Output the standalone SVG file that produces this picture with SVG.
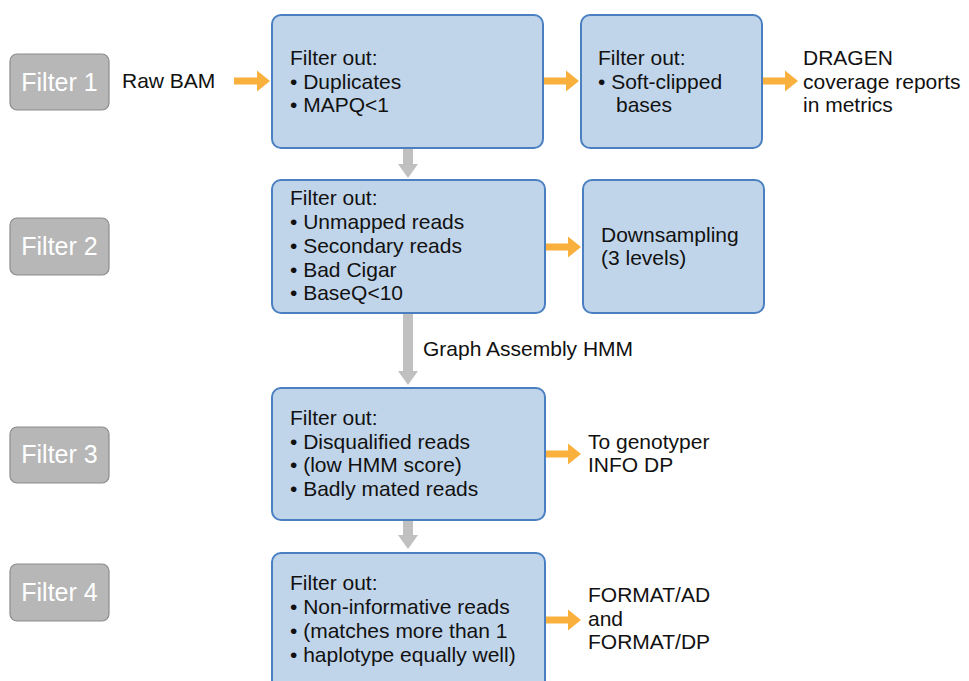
<svg xmlns="http://www.w3.org/2000/svg" width="969" height="681" viewBox="0 0 969 681">
<defs>
<style>
.lbl rect{fill:#b7b7b7;stroke:#8c8c8c;stroke-width:1.2}
.lbl text{fill:#fff;font-family:"Liberation Sans",Arial,sans-serif;font-size:25px;text-anchor:middle}
.box rect{fill:#c1d5ea;stroke:#4a80c2;stroke-width:2}
text{font-family:"Liberation Sans",Arial,sans-serif;font-size:21px;fill:#111}
.or{fill:#f9b03d}
.gr{fill:#c0c0c0}
</style>
<path id="oa" d="M0,-3.5 L23,-3.5 L23,-10.5 L36,0 L23,10.5 L23,3.5 L0,3.5 Z"/>
</defs>
<rect width="969" height="681" fill="#fff"/>

<g id="label1" class="lbl"><rect x="10" y="54" width="99" height="56" rx="7"/><text x="59.5" y="90.5">Filter 1</text></g>
<g id="label2" class="lbl"><rect x="10" y="218" width="99" height="57" rx="7"/><text x="59.5" y="255">Filter 2</text></g>
<g id="label3" class="lbl"><rect x="10" y="427" width="99" height="56" rx="7"/><text x="59.5" y="463">Filter 3</text></g>
<g id="label4" class="lbl"><rect x="10" y="564" width="99" height="57" rx="7"/><text x="59.5" y="601">Filter 4</text></g>

<g id="connectors">
<use href="#oa" class="or" x="234" y="81"/>
<use href="#oa" class="or" x="543" y="81"/>
<use href="#oa" class="or" x="762" y="81"/>
<use href="#oa" class="or" x="545" y="247"/>
<use href="#oa" class="or" x="545" y="454"/>
<use href="#oa" class="or" x="545" y="620"/>
<path class="gr" d="M403,149 L413,149 L413,164 L418,164 L408,178 L398,164 L403,164 Z"/>
<path class="gr" d="M403,314 L413,314 L413,371 L418,371 L408,385 L398,371 L403,371 Z"/>
<path class="gr" d="M403,521 L413,521 L413,535 L418,535 L408,549 L398,535 L403,535 Z"/>
</g>

<g id="rawbam"><text x="122" y="88">Raw BAM</text></g>

<g id="box1" class="box"><rect x="272" y="15" width="271" height="133" rx="9"/>
<text x="290" y="65">Filter out:</text><text x="290" y="89">• Duplicates</text><text x="290" y="112">• MAPQ&lt;1</text></g>

<g id="box1b" class="box"><rect x="581" y="15" width="181" height="133" rx="9"/>
<text x="598" y="65">Filter out:</text><text x="598" y="89">• Soft-clipped</text><text x="616" y="112">bases</text></g>

<g id="dragen"><text x="803" y="65">DRAGEN</text><text x="803" y="89">coverage reports</text><text x="803" y="112">in metrics</text></g>

<g id="box2" class="box"><rect x="272" y="180" width="273" height="133" rx="9"/>
<text x="290" y="205">Filter out:</text><text x="290" y="229">• Unmapped reads</text><text x="290" y="253">• Secondary reads</text><text x="290" y="277">• Bad Cigar</text><text x="290" y="300">• BaseQ&lt;10</text></g>

<g id="box2b" class="box"><rect x="583" y="180" width="181" height="133" rx="9"/>
<text x="601" y="242">Downsampling</text><text x="601" y="265">(3 levels)</text></g>

<g id="hmm"><text x="423" y="356">Graph Assembly HMM</text></g>

<g id="box3" class="box"><rect x="272" y="388" width="273" height="132" rx="9"/>
<text x="290" y="425">Filter out:</text><text x="290" y="449">• Disqualified reads</text><text x="290" y="472">• (low HMM score)</text><text x="290" y="496">• Badly mated reads</text></g>

<g id="genotyper"><text x="588" y="449">To genotyper</text><text x="588" y="472">INFO DP</text></g>

<g id="box4" class="box"><rect x="272" y="553" width="273" height="150" rx="9"/>
<text x="290" y="590">Filter out:</text><text x="290" y="614">• Non-informative reads</text><text x="290" y="638">• (matches more than 1</text><text x="290" y="662">• haplotype equally well)</text></g>

<g id="format"><text x="588" y="602">FORMAT/AD</text><text x="588" y="626">and</text><text x="588" y="649">FORMAT/DP</text></g>
</svg>
